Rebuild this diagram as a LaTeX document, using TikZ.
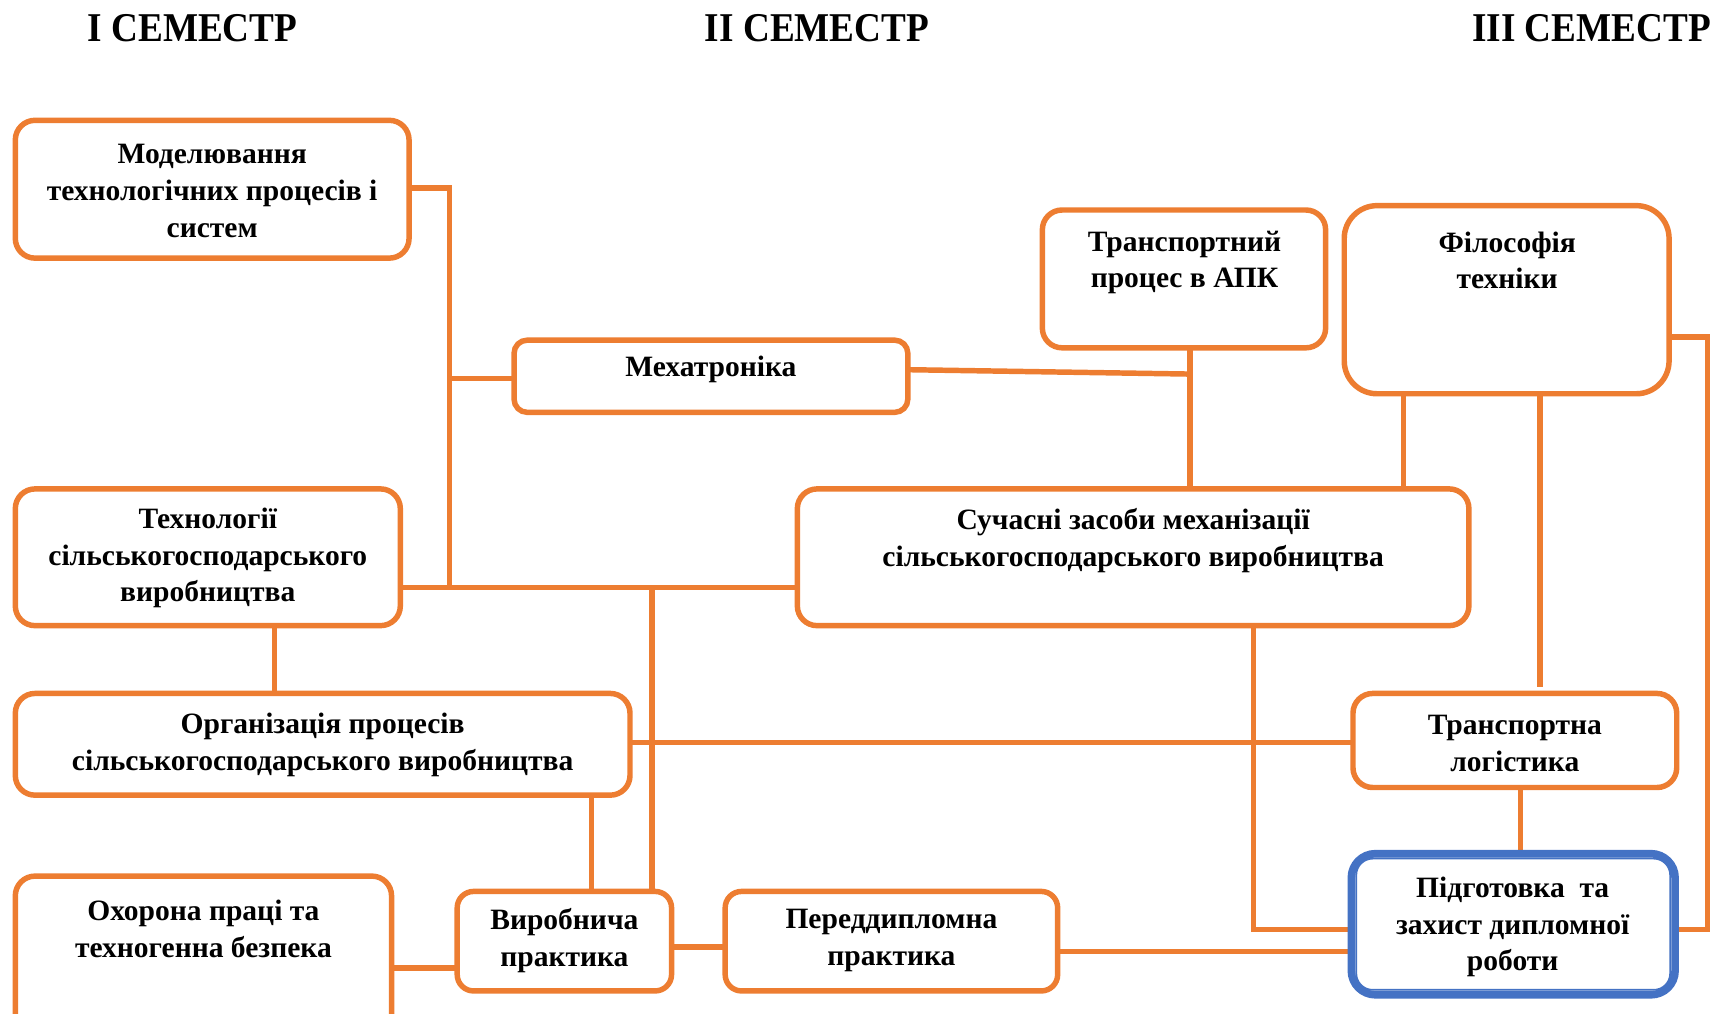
\documentclass[tikz,border=0pt]{standalone}
\usepackage{fontspec}
\setmainfont{Liberation Serif}
\usetikzlibrary{fit,calc}
\definecolor{org}{HTML}{ED7D31}
\definecolor{blu}{HTML}{4472C4}
\begin{document}
\begin{tikzpicture}[x=1pt,y=-1pt,
  box/.style={draw=org, line width=5pt, rounded corners=18pt, inner sep=0pt, fill=white},
  fbox/.style={draw=blu, line width=7pt, rounded corners=22pt, inner sep=0pt, fill=white},
  conn/.style={draw=org, line width=5pt},
  txt/.style={font=\fontsize{27}{33.5}\selectfont\bfseries, align=center, inner sep=0pt, yshift=-2.5pt},
  hdr/.style={font=\fontsize{34}{40}\selectfont\bfseries, inner sep=0pt}]
\useasboundingbox (0,0) rectangle (1568,927);
\clip (0,0) rectangle (1568,927);

% headers
\node[hdr] (h1) at (176,26) {\scalebox{1}[1.1]{I СЕМЕСТР}};
\node[hdr] (h2) at (747,26) {\scalebox{1}[1.1]{II СЕМЕСТР}};
\node[hdr] (h3) at (1455,26) {\scalebox{1}[1.1]{III СЕМЕСТР}};

% connectors
\draw[conn] (374,172) -- (411,172) -- (411,537);
\draw[conn] (411,346) -- (470,346);
\draw[conn] (366,537) -- (729,537);
\draw[conn] (596,537) -- (596,815);
\draw[conn] (830,338) -- (1088,342);
\draw[conn] (1088,318) -- (1088,452);
\draw[conn] (1283,360) -- (1283,447);
\draw[conn] (1408,360) -- (1408,628);
\draw[conn] (1526,308) -- (1561,308) -- (1561,850) -- (1535,850);
\draw[conn] (251,572) -- (251,634);
\draw[conn] (576,679) -- (1237,679);
\draw[conn] (541,727) -- (541,815);
\draw[conn] (1146,572) -- (1146,850) -- (1232,850);
\draw[conn] (1390,720) -- (1390,777);
\draw[conn] (358,885) -- (418,885);
\draw[conn] (614,866) -- (663,866);
\draw[conn] (967,870) -- (1232,870);

% boxes
\node[box, fit={(14,110) (374,236)}] (m1) {};
\node[txt] at (194,172) {Моделювання\\технологічних процесів і\\систем};
\node[box, rounded corners=12pt, fit={(470,311) (830,377)}] (mech) {};
\node[txt] at (650,335) {Мехатроніка};
\node[box, fit={(953,192) (1212,318)}] (tr) {};
\node[txt] at (1083,237.5) {Транспортний\\процес в АПК};
\node[box, rounded corners=30pt, fit={(1229,188) (1526,360)}] (fil) {};
\node[txt] at (1378,235.5) {Філософія\\техніки};
\node[box, fit={(14,447) (366,572)}] (tech) {};
\node[txt] at (190,507.7) {Технології\\сільськогосподарського\\виробництва};
\node[box, fit={(729,447) (1343,572)}] (suc) {};
\node[txt] at (1036,491.5) {Сучасні засоби механізації\\сільськогосподарського виробництва};
\node[box, fit={(14,634) (576,727)}] (org) {};
\node[txt] at (295,678.5) {Організація процесів\\сільськогосподарського виробництва};
\node[box, fit={(1237,634) (1533,720)}] (tl) {};
\node[txt] at (1385,677.5) {Транспортна\\логістика};
\node[box, fit={(14,801) (358,965)}] (ox) {};
\node[txt] at (186,846.5) {Охорона праці та\\техногенна безпека};
\node[box, rounded corners=15pt, fit={(418,815) (614,906)}] (vyr) {};
\node[txt] at (516,857.5) {Виробнича\\практика};
\node[box, rounded corners=15pt, fit={(663,815) (967,906)}] (pd) {};
\node[txt] at (815,857.5) {Переддипломна\\практика};
\node[fbox, fit={(1235.5,780.5) (1531.5,909.5)}] (pid) {};
\draw[blu, line width=1.6pt, rounded corners=15pt] ($(pid.south west)+(8,-8)$) rectangle ($(pid.north east)+(-8,8)$);
\node[txt] at (1383,845) {Підготовка\ \ та\\захист дипломної\\роботи};
\end{tikzpicture}
\end{document}
